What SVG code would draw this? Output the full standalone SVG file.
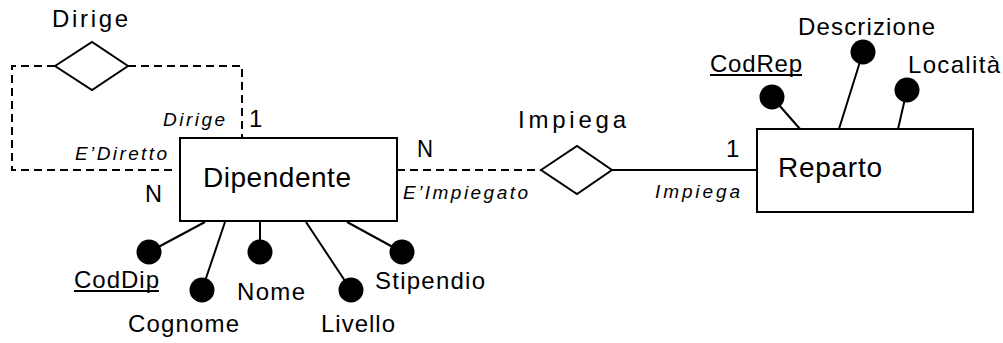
<svg xmlns="http://www.w3.org/2000/svg" width="1003" height="343" viewBox="0 0 1003 343">
<style>
text{font-family:"Liberation Sans",Arial,sans-serif;fill:#000}
.ent{font-size:28px}
.lbl{font-size:24px}
.role{font-size:19px;font-style:italic}
.box{fill:#fff;stroke:#000;stroke-width:2}
.dia{fill:#fff;stroke:#000;stroke-width:2}
.ln{fill:none;stroke:#000;stroke-width:2}
.dash{fill:none;stroke:#000;stroke-width:2;stroke-dasharray:8 5}
.dot{fill:#000}
</style>
<rect width="1003" height="343" fill="#fff"/>
<g id="connectors">
<polyline class="dash" points="55,66 12,66 12,170 176,170"/>
<polyline class="dash" points="128,66 242,66 242,138"/>
<line class="dash" x1="397" y1="170" x2="541" y2="170"/>
<line class="ln" x1="612" y1="170" x2="757" y2="170"/>
<line class="ln" x1="205" y1="222" x2="149" y2="252"/>
<line class="ln" x1="225" y1="222" x2="202" y2="290"/>
<line class="ln" x1="260" y1="222" x2="260" y2="252"/>
<line class="ln" x1="306" y1="222" x2="351" y2="290"/>
<line class="ln" x1="347" y1="222" x2="402" y2="252"/>
<line class="ln" x1="800" y1="129" x2="772" y2="97"/>
<line class="ln" x1="839" y1="129" x2="863" y2="52"/>
<line class="ln" x1="898" y1="129" x2="907" y2="90"/>
<text class="role" x="163" y="126" textLength="62" lengthAdjust="spacing">Dirige</text>
<text class="lbl" x="249" y="127">1</text>
<text class="role" x="75" y="160" textLength="92" lengthAdjust="spacing">E’Diretto</text>
<text class="lbl" x="145" y="202" textLength="17" lengthAdjust="spacingAndGlyphs">N</text>
<text class="lbl" x="417" y="157" textLength="16" lengthAdjust="spacingAndGlyphs">N</text>
<text class="role" x="403" y="199" textLength="125" lengthAdjust="spacing">E’Impiegato</text>
<text class="lbl" x="726" y="157">1</text>
<text class="role" x="655" y="198" textLength="85" lengthAdjust="spacing">Impiega</text>
</g>
<g id="rel-dirige">
<polygon class="dia" points="55,66 92,42 128,66 92,90"/>
<text class="lbl" x="52" y="27" textLength="76" lengthAdjust="spacing">Dirige</text>
</g>
<g id="rel-impiega">
<polygon class="dia" points="541,170 577,146 612,170 577,194"/>
<text class="lbl" x="518" y="128" textLength="108" lengthAdjust="spacing">Impiega</text>
</g>
<g id="ent-dipendente">
<rect class="box" x="180" y="138" width="217" height="83"/>
<text class="ent" x="203" y="187" textLength="148" lengthAdjust="spacing">Dipendente</text>
</g>
<g id="ent-reparto">
<rect class="box" x="757" y="129" width="216" height="83"/>
<text class="ent" x="778" y="177" textLength="104" lengthAdjust="spacing">Reparto</text>
</g>
<g id="attr-coddip">
<circle class="dot" cx="149" cy="252" r="12.5"/>
<text class="lbl" x="74" y="288" textLength="85" lengthAdjust="spacing">CodDip</text>
<line class="ln" x1="74" y1="291" x2="159" y2="291" stroke-width="1.5"/>
</g>
<g id="attr-cognome">
<circle class="dot" cx="202" cy="290" r="12.5"/>
<text class="lbl" x="128" y="332" textLength="111" lengthAdjust="spacing">Cognome</text>
</g>
<g id="attr-nome">
<circle class="dot" cx="260" cy="252" r="12.5"/>
<text class="lbl" x="237" y="300" textLength="68" lengthAdjust="spacing">Nome</text>
</g>
<g id="attr-livello">
<circle class="dot" cx="351" cy="290" r="12.5"/>
<text class="lbl" x="321" y="332" textLength="74" lengthAdjust="spacing">Livello</text>
</g>
<g id="attr-stipendio">
<circle class="dot" cx="402" cy="252" r="12.5"/>
<text class="lbl" x="375" y="289" textLength="110" lengthAdjust="spacing">Stipendio</text>
</g>
<g id="attr-codrep">
<circle class="dot" cx="772" cy="97" r="12.5"/>
<text class="lbl" x="710" y="72" textLength="92" lengthAdjust="spacing">CodRep</text>
<line class="ln" x1="710" y1="75" x2="802" y2="75" stroke-width="1.5"/>
</g>
<g id="attr-descrizione">
<circle class="dot" cx="863" cy="52" r="12.5"/>
<text class="lbl" x="798" y="35" textLength="137" lengthAdjust="spacing">Descrizione</text>
</g>
<g id="attr-localita">
<circle class="dot" cx="907" cy="90" r="12.5"/>
<text class="lbl" x="908" y="73" textLength="92" lengthAdjust="spacing">Località</text>
</g>
</svg>
